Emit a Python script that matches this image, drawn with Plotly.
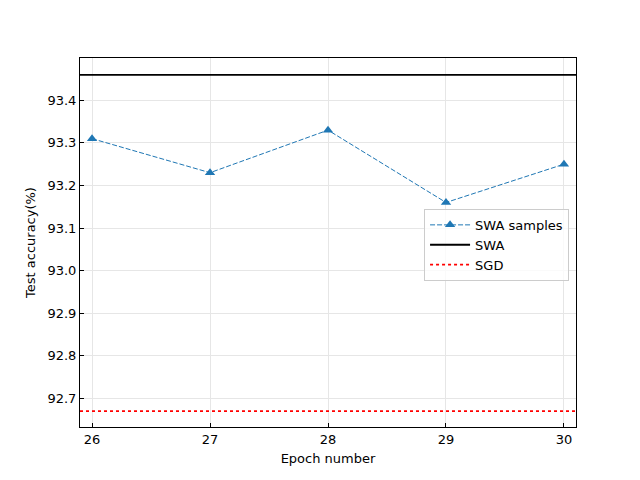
import plotly.graph_objects as go

epochs = [26, 27, 28, 29, 30]
swa_samples = [93.31, 93.23, 93.33, 93.16, 93.25]
swa_acc = 93.46
sgd_acc = 92.67
x_range = [25.898, 30.102]
y_range = [92.6325, 93.4995]
x_ticks = [26, 27, 28, 29, 30]
y_ticks = [92.7, 92.8, 92.9, 93.0, 93.1, 93.2, 93.3, 93.4]

fig = go.Figure()
fig.add_trace(go.Scatter(
    x=epochs, y=swa_samples, mode="lines+markers", name="SWA samples",
    line=dict(color="#1f77b4", width=1, dash="5px,2px"),
    marker=dict(symbol="triangle-up", size=9, color="#1f77b4"),
))
fig.add_trace(go.Scatter(
    x=x_range, y=[swa_acc, swa_acc], mode="lines", name="SWA",
    line=dict(color="black", width=1.8),
))
fig.add_trace(go.Scatter(
    x=x_range, y=[sgd_acc, sgd_acc], mode="lines", name="SGD",
    line=dict(color="red", width=1.8, dash="dot"),
))

axis_common = dict(
    showline=True, linecolor="black", linewidth=1, mirror=True,
    ticks="inside", ticklen=4, tickcolor="black",
    showgrid=True, gridcolor="#e6e6e6", gridwidth=1, zeroline=False,
    tickfont=dict(size=13, color="black"),
)

fig.update_layout(
    width=640, height=480,
    margin=dict(l=72, r=72, t=50, b=61),
    paper_bgcolor="white", plot_bgcolor="white",
    font=dict(family="DejaVu Sans", size=13, color="black"),
    xaxis=dict(range=x_range, tickvals=x_ticks, ticktext=[str(t) for t in x_ticks],
               title=dict(text="Epoch number", standoff=8, font=dict(size=13)),
               automargin=False, **axis_common),
    yaxis=dict(range=y_range, tickvals=y_ticks, ticktext=[f"{t:.1f}" for t in y_ticks],
               title=dict(text="Test accuracy(%)", standoff=8, font=dict(size=13)),
               automargin=False, **axis_common),
    legend=dict(x=0.986, y=0.591, xanchor="right", yanchor="top",
                bgcolor="rgba(255,255,255,0.8)", bordercolor="#cccccc", borderwidth=1,
                font=dict(size=13), tracegroupgap=0, itemwidth=40),
    showlegend=True,
)

fig.write_html("out.html")
